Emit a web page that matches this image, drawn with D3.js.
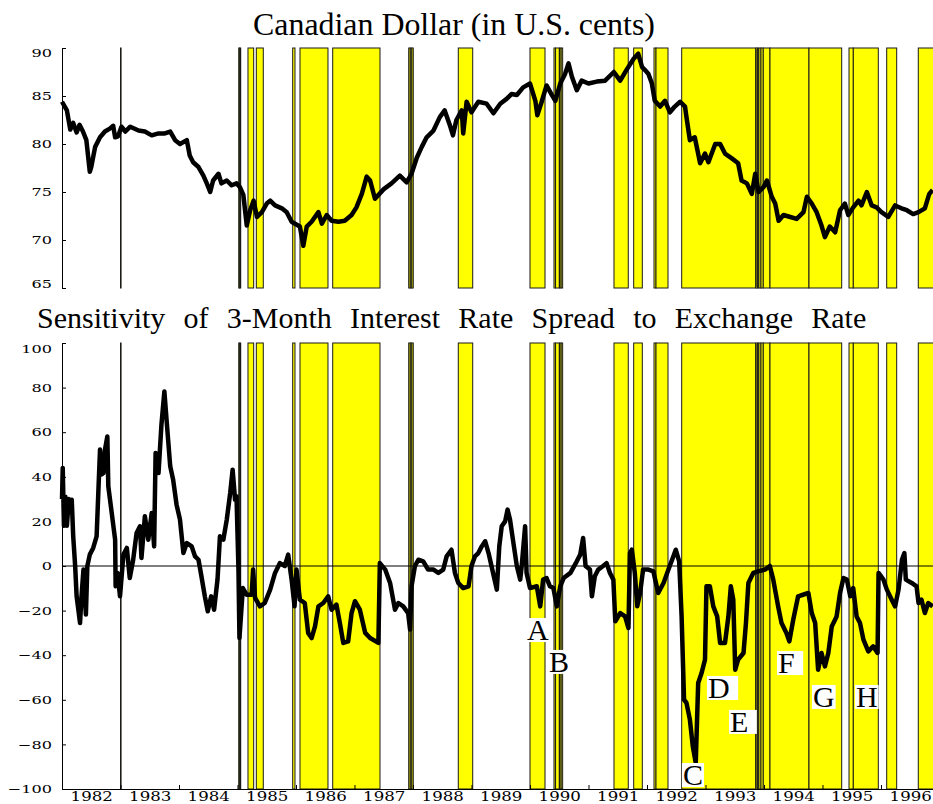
<!DOCTYPE html>
<html><head><meta charset="utf-8">
<script src="https://cdn.jsdelivr.net/npm/d3@7"></script>
<style>body{margin:0;background:#fff} svg{display:block}</style>
</head><body>
<svg id="chart" width="933" height="804"></svg>
<script>
// ---------------- DATA (x = months since Jan 1982) ----------------
const yearLabels = [1982,1983,1984,1985,1986,1987,1988,1989,1990,1991,1992,1993,1994,1995,1996];
const topTicks = [65,70,75,80,85,90];
const bottomTicks = [-100,-80,-60,-40,-20,0,20,40,60,80,100];

const cadSeries = [[0,84.4],[1,83.5],[1.7,81.5],[2.3,82.2],[3,81.2],[3.6,82.0],[4.3,81.3],[5,80.4],[5.7,77.1],[6,77.6],[6.8,79.7],[7.8,80.7],[8.8,81.3],[9.8,81.6],[10.5,81.9],[10.9,80.7],[11.5,80.8],[12.2,81.8],[13,81.3],[14,81.8],[15.7,81.4],[17,81.3],[18.4,80.9],[19.8,81.1],[21.1,81.1],[22.2,81.3],[23.2,80.4],[24.2,80.0],[25.6,80.4],[26.2,78.8],[26.9,78.1],[28,77.6],[29,76.7],[29.7,75.9],[30.4,75.0],[31,76.2],[32.1,76.9],[32.7,75.9],[33.8,76.2],[34.8,75.7],[35.8,75.9],[36.5,75.5],[37.2,74.7],[37.9,71.5],[38.6,73.1],[39.3,74.1],[40,72.4],[41,72.9],[42,73.8],[42.7,74.1],[43.7,73.6],[45.1,73.3],[46.1,72.9],[47.1,71.9],[47.8,71.7],[48.8,71.4],[49.5,69.4],[50.2,71.4],[51.2,71.9],[52.6,72.9],[53.3,71.7],[54.3,72.6],[55.3,72.0],[56.7,71.9],[58,72.0],[59.4,72.6],[60.4,73.4],[61.5,74.8],[62.5,76.6],[63.2,76.2],[64.2,74.3],[66,75.3],[67.6,75.9],[69.3,76.7],[70.7,76.0],[71.7,76.9],[72.8,78.6],[73.8,79.7],[74.8,80.7],[76.2,81.4],[77.5,82.8],[78.5,83.5],[79.6,81.9],[80.2,80.9],[80.9,82.5],[82,83.5],[82.3,81.1],[83,84.4],[84,83.3],[85.4,84.4],[87.1,84.2],[88.5,83.2],[89.9,84.2],[91.2,84.7],[92.2,85.2],[93.3,85.1],[94.6,85.9],[96,86.3],[97.1,84.5],[97.5,83.0],[98.4,84.4],[99.4,86.1],[100.5,85.1],[101.2,84.5],[102.2,86.3],[103.2,87.3],[103.9,88.4],[104.6,87.0],[105.6,85.6],[106.6,86.6],[108,86.3],[109.7,86.5],[111.4,86.6],[113.2,87.5],[114.5,86.6],[115.9,87.8],[117.3,88.9],[118.2,89.4],[119,88.0],[119.6,87.7],[120.3,87.3],[121,86.3],[121.6,84.5],[122.7,83.9],[123.7,84.5],[124.7,83.3],[125.7,83.9],[126.8,84.4],[127.8,83.9],[128.1,82.8],[128.8,80.4],[129.8,80.7],[130.9,78.0],[131.9,79.0],[132.6,78.1],[134,80.0],[135,80.0],[136,79.0],[137.4,78.5],[138.7,78.0],[139.4,76.2],[140.5,75.9],[141.5,74.8],[142.2,76.9],[142.9,75.0],[143.9,75.5],[144.6,76.2],[145.6,74.5],[146.3,73.8],[147,72.0],[148,72.6],[149.4,72.4],[150.7,72.2],[152.1,72.9],[152.8,74.5],[153.8,73.8],[154.8,72.9],[155.8,71.5],[156.5,70.3],[157.5,71.4],[158.6,70.8],[159.6,73.1],[160.6,73.8],[161.3,72.6],[162.3,73.4],[163.4,74.1],[164,73.6],[165.1,75.0],[166.1,73.6],[167.1,73.4],[168.1,72.9],[169.5,72.4],[170.9,73.6],[172.2,73.3],[173.3,73.1],[174.6,72.7],[175.7,72.9],[177,73.3],[177.9,74.8],[178.6,75.2]];

const sensSeries = [[0,30],[0.15,44],[0.4,18],[0.7,31],[1.0,18],[1.4,30],[1.8,28],[2,29.7],[2.3,13.3],[2.7,0],[3,-13.6],[3.7,-25.6],[4.0,-13.6],[4.4,-1.6],[4.9,-21.8],[5.2,0],[5.7,5.1],[6.4,8.1],[7.1,13.3],[7.5,35.7],[7.8,52.2],[8.1,41],[8.5,41.7],[8.8,52],[9.3,58.1],[9.5,35.7],[10.2,23.8],[10.9,11.8],[11.0,-9.1],[11.4,-3.1],[11.9,-13.6],[12.6,5.1],[13.3,8.1],[13.9,-5.4],[14.6,2.8],[15.3,14.8],[16,17.8],[16.3,3.6],[17,22.3],[17.7,11.8],[18.4,23.8],[18.9,8.8],[19.2,50.7],[19.8,41.7],[20.4,63.4],[21,78.3],[21.5,64.1],[22.2,44.7],[22.8,38.7],[23.5,27.5],[24.2,20.8],[24.9,5.8],[25.6,10.3],[26.6,8.8],[27.3,4.3],[28,2.8],[28.6,-4.6],[29.3,-13.6],[29.9,-20.3],[30.6,-13.6],[31.2,-19.6],[31.9,-6.1],[32.4,13.3],[33.1,11.8],[33.8,20.8],[34.5,32.7],[35,43.2],[35.5,29.7],[35.8,31.2],[36.2,-1.6],[36.4,-32.3],[37.1,-9.9],[37.9,-12.9],[38.9,-12.9],[39.2,-1.6],[39.6,-14.3],[40.6,-18.1],[41.6,-16.6],[42.7,-10.6],[43.7,-3.1],[44.7,1.3],[45.7,0],[46.4,5.1],[47.1,-6.1],[47.7,-18.1],[48.1,-1.6],[48.8,-15.1],[49.8,-16.6],[50.5,-30],[51.2,-32.3],[51.9,-27.1],[52.6,-18.1],[53.6,-16.6],[54.6,-13.6],[55.3,-19.6],[56.3,-17.3],[57,-25.6],[57.7,-34.5],[58.7,-33.8],[59.4,-21.1],[60.1,-15.8],[61.1,-19.6],[62.2,-30],[63.2,-32.3],[64.9,-34.5],[65.2,1.3],[66.3,-1.6],[67.3,-7.6],[68.3,-19.6],[69,-16.6],[70,-18.1],[71,-21.1],[71.4,-28.5],[71.7,-9.1],[72.4,0],[73.1,2.8],[74.1,2.1],[75.1,-1.6],[76.2,-1.6],[77.2,-3.1],[78.2,-1.6],[78.9,4.3],[79.9,7.3],[80.6,-3.1],[81.3,-7.6],[82.3,-9.9],[83.4,-9.1],[84,0],[84.7,4.3],[85.4,5.8],[86.1,8.8],[86.8,11.1],[87.5,5.8],[88.1,0],[89.2,-10.6],[89.7,8.8],[90.2,17.8],[90.9,20],[91.4,25.3],[91.9,20.8],[92.6,10.3],[93.3,0],[94,-6.1],[94.3,0],[95,17.8],[95.3,-3.1],[96,-9.9],[97.4,-9.1],[98.1,-18.1],[98.7,-6.1],[99.4,-5.4],[100.1,-9.1],[100.8,-9.9],[101.5,-18.1],[102.2,-9.1],[102.9,-5.4],[104.3,-3.1],[105.6,2.1],[106.3,5.1],[106.9,12.6],[107.4,0],[108.3,-1.6],[108.7,-13.6],[109.3,-4.6],[110,-1.6],[111,0],[111.7,1.3],[112.4,-3.1],[113.1,-6.1],[113.5,-24.8],[114.5,-21.1],[115.5,-22.6],[116.2,-27.8],[116.5,5.8],[116.9,7.3],[117.5,-3.1],[118,-18.1],[118.6,-12],[119.2,-1.6],[120.3,-1.6],[121.3,-2.4],[122.3,-12.1],[123.4,-7.6],[124.4,-1.6],[125.4,4.3],[125.9,7.3],[126.6,2.1],[127.1,-22.6],[127.6,-59.9],[128.1,-61.4],[128.8,-68.9],[129.4,-80.9],[130,-88.3],[130.5,-52.5],[131.2,-48],[131.9,-42],[132.2,-9.1],[132.9,-9.1],[133.6,-18.1],[134.4,-22.6],[135,-34.5],[136,-34.5],[136.7,-22.6],[137.2,-9.1],[137.7,-15.1],[138.1,-46.5],[138.7,-42],[139.8,-39],[140.3,-25.6],[140.8,-7.6],[141.8,-3.1],[142.8,-2.4],[144.2,-1.6],[145.2,0],[145.9,-6.1],[146.9,-18.1],[147.6,-25.6],[148.6,-30],[149.2,-33.8],[150,-24.1],[151,-13.6],[152,-12.9],[153.1,-12.1],[153.8,-21.1],[154.5,-25.6],[155.1,-46.5],[155.8,-39],[156.5,-45],[157.2,-39],[157.9,-27.1],[158.9,-22.6],[159.6,-12.1],[160.3,-5.4],[161,-6.1],[161.7,-13.6],[162.3,-9.9],[163,-22.6],[163.7,-25.6],[164.4,-33],[165.4,-38.3],[166.4,-36],[167.3,-39],[167.5,-3.1],[168.5,-6.1],[169.2,-10.6],[170.2,-15.1],[170.9,-18.1],[171.6,-10.6],[172.3,2.8],[172.8,5.8],[173.1,-6.1],[174.3,-7.6],[175.3,-9.1],[175.7,-16.6],[176.3,-15.1],[177,-21.1],[177.7,-16.6],[178.6,-18.1]];

// shaded periods [start month, end month]
const bands = [[12.0,12.12],[36.25,36.45],[36.48,36.66],[38.15,39.32],[39.86,41.29],[47.32,47.79],[48.82,54.56],[55.53,65.23],[71.12,71.42],[71.45,71.75],[71.78,72.06],[81.29,84.25],[96.0,99.08],[100.92,101.2],[101.25,102.0],[102.05,102.35],[102.4,102.7],[113.23,116.16],[117.27,119.04],[121.44,121.85],[121.85,124.31],[127.12,142.3],[142.36,142.6],[142.65,142.9],[142.95,143.38],[143.38,143.85],[143.85,145.23],[145.23,153.23],[153.23,159.94],[161.44,162.32],[162.32,167.45],[169.17,171.22],[175.65,178.9]];

// annotation letters: label, month (left edge), value (baseline)
const letterLabels = ["A","B","C","D\u00a0","E\u00a0","F\u00a0","G","H"];
const letterMonths = [95.38,99.9,127.38,132.51,137.03,146.87,154.05,162.87];
const letterValues = [-33.2,-47.5,-98.2,-59.2,-74.4,-48,-63.2,-63.2];

// ---------------- DRAWING ----------------
const svg = d3.select("#chart");
const SERIF = "'Liberation Serif','Times New Roman',serif";
const x = d3.scaleLinear().domain([0, 178.67]).range([62, 933]);
const yTop = d3.scaleLinear().domain([65, 90]).range([288, 48]);
const yBot = d3.scaleLinear().domain([-100, 100]).range([789, 343]);

function drawBands(y) {
  const [r0, r1] = y.range();
  svg.append("g").selectAll("rect").data(bands).join("rect")
    .attr("x", d => x(d[0])).attr("width", d => x(d[1]) - x(d[0]))
    .attr("y", r1).attr("height", r0 - r1)
    .attr("fill", "#ffff00").attr("stroke", "#1a1a1a").attr("stroke-width", 1);
}
drawBands(yTop);
drawBands(yBot);

// zero line
svg.append("line").attr("x1", 62).attr("x2", 933)
  .attr("y1", yBot(0)).attr("y2", yBot(0)).attr("stroke", "#000").attr("stroke-width", 1);

const lineTop = d3.line().x(d => x(d[0])).y(d => yTop(d[1]));
const lineBot = d3.line().x(d => x(d[0])).y(d => yBot(d[1]));
svg.append("path").datum(cadSeries).attr("d", lineTop)
  .attr("fill", "none").attr("stroke", "#000").attr("stroke-width", 4.5).attr("stroke-linejoin", "round");
svg.append("path").datum(sensSeries).attr("d", lineBot)
  .attr("fill", "none").attr("stroke", "#000").attr("stroke-width", 4.5).attr("stroke-linejoin", "round");

// y axes
function yAxis(scale, ticks, nudges) {
  const g = svg.append("g").attr("transform", "translate(62,0)")
    .call(d3.axisLeft(scale).tickValues(ticks).tickSize(-4).tickSizeOuter(0).tickPadding(10));
  g.select(".domain").attr("stroke", "#000");
  g.selectAll(".tick line").attr("stroke", "#000");
  g.selectAll("text").attr("font-family", "'DejaVu Serif',serif").attr("font-size", 11.5)
    .attr("fill", "#000").attr("x", -10 / 1.4)
    .attr("transform", d => `translate(0,${nudges[d] || 0}) scale(1.4,1)`);
}
yAxis(yTop, topTicks, {90: 4.5, 65: -4});
yAxis(yBot, bottomTicks, {100: 6});

// bottom x axis: line + inner year ticks
const gx = svg.append("g").attr("transform", `translate(0,${yBot(-100)})`)
  .call(d3.axisBottom(x).tickValues(yearLabels.slice(1).map(yr => (yr - 1982) * 12))
    .tickSize(-4).tickSizeOuter(0).tickFormat(""));
gx.select(".domain").attr("stroke", "#000");
gx.selectAll(".tick line").attr("stroke", "#000");

// year labels centered in each year
const gl = svg.append("g").attr("transform", `translate(0,${yBot(-100)})`)
  .call(d3.axisBottom(x).tickValues(yearLabels.map(yr => (yr - 1982) * 12 + 6))
    .tickSize(0).tickPadding(0).tickFormat((d, i) => yearLabels[i]));
gl.select(".domain").remove();
gl.selectAll(".tick text").attr("font-family", "'DejaVu Serif',serif").attr("font-size", 13)
  .attr("fill", "#000").attr("x", 0).attr("y", 11.5).attr("dy", 0)
  .attr("transform", "scale(1.28,1)");

// titles
const t1 = svg.append("text").attr("x", 454).attr("y", 35).attr("text-anchor", "middle")
  .attr("font-family", SERIF).attr("font-size", 31).text("Canadian Dollar (in U.S. cents)");
const l1 = t1.node().getComputedTextLength();
t1.attr("font-size", 31 * 402 / l1);

const t2 = svg.append("text").attr("x", 37).attr("y", 327.5)
  .attr("font-family", SERIF).attr("font-size", 30)
  .text("Sensitivity of 3-Month Interest Rate Spread to Exchange Rate");
const l2 = t2.node().getComputedTextLength();
t2.attr("word-spacing", (840 - l2) / 9);

// annotation letters with white boxes
const gLet = svg.append("g");
letterLabels.forEach((lab, i) => {
  const gx0 = x(letterMonths[i]), gy0 = yBot(letterValues[i]);
  const r = gLet.append("rect").attr("fill", "#fff");
  const t = gLet.append("text").attr("x", gx0).attr("y", gy0)
    .attr("font-family", SERIF).attr("font-size", 30).attr("fill", "#000").text(lab);
  const w = t.node().getComputedTextLength();
  r.attr("x", gx0 - 1).attr("y", gy0 - 22).attr("width", w + 2).attr("height", 24);
});
</script>
</body></html>
